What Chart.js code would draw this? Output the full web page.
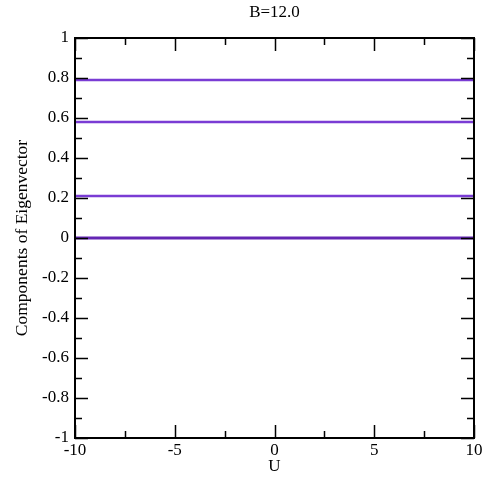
<!DOCTYPE html>
<html>
<head>
<meta charset="utf-8">
<script src="https://cdn.jsdelivr.net/npm/chart.js@4/dist/chart.umd.min.js"></script>
<style>
  html, body { margin: 0; padding: 0; background: #fff; }
  #wrap { width: 486px; height: 479px; }
</style>
</head>
<body>
<div id="wrap"><canvas id="eigenChart" width="486" height="479"></canvas></div>
<script>
// U values along the x axis
const uValues = [-10, 10];

// eigenvector components (flat across U)
const comp1 = [0.79, 0.79];
const comp2 = [0.58, 0.58];
const comp3 = [0.21, 0.21];
const comp4 = [0.0, 0.0];

const xTicks = [-10, -5, 0, 5, 10];
const yTicks = [-1, -0.8, -0.6, -0.4, -0.2, 0, 0.2, 0.4, 0.6, 0.8, 1];

const titleText = 'B=12.0';
const lineColor = '#7a3cd4';
const zeroColor = '#6426b4';

const fontFamily = '"Liberation Serif", "Times New Roman", serif';
const font = { family: fontFamily, size: 17 };

function toPoints(ys) {
    return uValues.map((u, i) => ({ x: u, y: ys[i] }));
}

// frame, inward major/minor ticks on all four sides, and the title over the plot
const frameTicks = {
    id: 'frameTicks',
    afterDatasetsDraw(chart) {
        const ctx = chart.ctx;
        const a = chart.chartArea;
        const xs = chart.scales.x;
        const ys = chart.scales.y;
        ctx.save();
        ctx.strokeStyle = '#000';
        ctx.lineWidth = 2;
        ctx.strokeRect(a.left, a.top, a.right - a.left, a.bottom - a.top);
        ctx.lineWidth = 1.5;
        ctx.beginPath();
        for (let v = -10; v <= 10; v += 2.5) {
            const px = Math.round(xs.getPixelForValue(v)) + 0.5;
            const len = (v % 5 === 0) ? 13 : 7;
            ctx.moveTo(px, a.bottom); ctx.lineTo(px, a.bottom - len);
            ctx.moveTo(px, a.top); ctx.lineTo(px, a.top + len);
        }
        for (let i = -10; i <= 10; i++) {
            const py = Math.round(ys.getPixelForValue(i / 10)) + 0.5;
            const len = (i % 2 === 0) ? 13 : 7;
            ctx.moveTo(a.left, py); ctx.lineTo(a.left + len, py);
            ctx.moveTo(a.right, py); ctx.lineTo(a.right - len, py);
        }
        ctx.stroke();

        ctx.fillStyle = '#000';
        ctx.font = '17px ' + fontFamily;
        ctx.textAlign = 'center';
        ctx.textBaseline = 'middle';
        ctx.fillText(titleText, (a.left + a.right) / 2, 13);
        ctx.restore();
    }
};

new Chart(document.getElementById('eigenChart').getContext('2d'), {
    type: 'line',
    data: {
        datasets: [
            { data: toPoints(comp1), borderColor: lineColor, borderWidth: 2.5 },
            { data: toPoints(comp2), borderColor: lineColor, borderWidth: 2.5 },
            { data: toPoints(comp3), borderColor: lineColor, borderWidth: 2.5 },
            { data: toPoints(comp4), borderColor: zeroColor, borderWidth: 3 }
        ]
    },
    options: {
        responsive: false,
        animation: false,
        events: [],
        layout: { padding: { top: 38, right: 12, bottom: 0, left: 0 } },
        elements: { point: { radius: 0 }, line: { tension: 0 } },
        plugins: {
            legend: { display: false },
            tooltip: { enabled: false },
            title: { display: false }
        },
        scales: {
            x: {
                type: 'linear',
                min: -10,
                max: 10,
                afterBuildTicks: s => { s.ticks = xTicks.map(v => ({ value: v })); },
                afterFit: s => { s.height = 41; },
                grid: { display: false, drawTicks: false },
                border: { display: false },
                ticks: { color: '#000', font: font, padding: 2, maxRotation: 0, callback: v => String(v) },
                title: { display: true, text: 'U', color: '#000', font: font, padding: { top: 0, bottom: 2 } }
            },
            y: {
                min: -1,
                max: 1,
                afterBuildTicks: s => { s.ticks = yTicks.map(v => ({ value: v })); },
                afterFit: s => { s.width = 75; },
                grid: { display: false, drawTicks: false },
                border: { display: false },
                ticks: { color: '#000', font: font, padding: 6, callback: v => String(+v.toFixed(2)) },
                title: { display: true, text: 'Components of Eigenvector', color: '#000', font: { family: fontFamily, size: 17.5 }, padding: { top: 12, bottom: 4 } }
            }
        }
    },
    plugins: [frameTicks]
});
</script>
</body>
</html>
